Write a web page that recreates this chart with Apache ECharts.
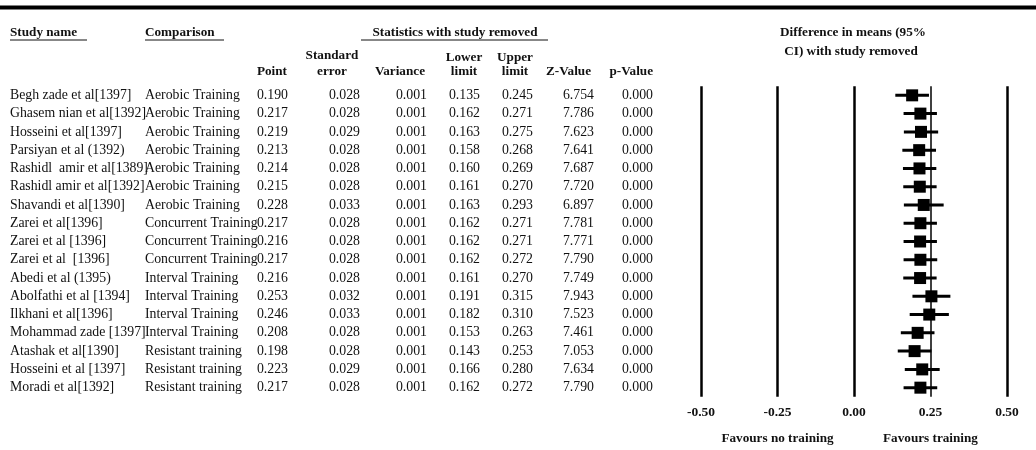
<!DOCTYPE html>
<html><head><meta charset="utf-8">
<script src="https://cdn.jsdelivr.net/npm/echarts@6/dist/echarts.min.js"></script>
<style>html,body{margin:0;padding:0;background:#fff}#c{width:1036px;height:450px}</style>
</head><body><div id="c"></div>
<script>
// ---- data ----
const studies = [
  'Begh zade et al[1397]', 'Ghasem nian et al[1392]', 'Hosseini et al[1397]', 'Parsiyan et al (1392)',
  'Rashidl  amir et al[1389]', 'Rashidl amir et al[1392]', 'Shavandi et al[1390]', 'Zarei et al[1396]',
  'Zarei et al [1396]', 'Zarei et al  [1396]', 'Abedi et al (1395)', 'Abolfathi et al [1394]',
  'Ilkhani et al[1396]', 'Mohammad zade [1397]', 'Atashak et al[1390]', 'Hosseini et al [1397]', 'Moradi et al[1392]'
];
const comparisons = [
  'Aerobic Training', 'Aerobic Training', 'Aerobic Training', 'Aerobic Training', 'Aerobic Training',
  'Aerobic Training', 'Aerobic Training', 'Concurrent Training', 'Concurrent Training', 'Concurrent Training',
  'Interval Training', 'Interval Training', 'Interval Training', 'Interval Training',
  'Resistant training', 'Resistant training', 'Resistant training'
];
const points      = [0.190, 0.217, 0.219, 0.213, 0.214, 0.215, 0.228, 0.217, 0.216, 0.217, 0.216, 0.253, 0.246, 0.208, 0.198, 0.223, 0.217];
const stdErrors   = [0.028, 0.028, 0.029, 0.028, 0.028, 0.028, 0.033, 0.028, 0.028, 0.028, 0.028, 0.032, 0.033, 0.028, 0.028, 0.029, 0.028];
const variances   = [0.001, 0.001, 0.001, 0.001, 0.001, 0.001, 0.001, 0.001, 0.001, 0.001, 0.001, 0.001, 0.001, 0.001, 0.001, 0.001, 0.001];
const lowerLimits = [0.135, 0.162, 0.163, 0.158, 0.160, 0.161, 0.163, 0.162, 0.162, 0.162, 0.161, 0.191, 0.182, 0.153, 0.143, 0.166, 0.162];
const upperLimits = [0.245, 0.271, 0.275, 0.268, 0.269, 0.270, 0.293, 0.271, 0.271, 0.272, 0.270, 0.315, 0.310, 0.263, 0.253, 0.280, 0.272];
const zValues     = [6.754, 7.786, 7.623, 7.641, 7.687, 7.720, 6.897, 7.781, 7.771, 7.790, 7.749, 7.943, 7.523, 7.461, 7.053, 7.634, 7.790];
const pValues     = [0.000, 0.000, 0.000, 0.000, 0.000, 0.000, 0.000, 0.000, 0.000, 0.000, 0.000, 0.000, 0.000, 0.000, 0.000, 0.000, 0.000];
const referenceLines = [-0.5, -0.25, 0, 0.25, 0.5];
const favourAt = [-0.25, 0.25];
const favourLabels = ['Favours no training', 'Favours training'];

// ---- layout / style ----
const SERIF = '"Liberation Serif", "Times New Roman", serif';
const rowFont = '13.8px ' + SERIF;
const boldFont = 'bold 13.2px ' + SERIF;
const INK = '#111';
// text columns: [x, align]
const textCols = [[10, 'left'], [145, 'left']];
// numeric columns: right edges
const numRight = [288, 360, 427, 480, 533, 594, 653];

const numCols = [points, stdErrors, variances, lowerLimits, upperLimits, zValues, pValues];

function T(x, y, text, align, font) {
  return { type: 'text', style: { x: x, y: y, text: text, font: font || boldFont, fill: INK, align: align || 'left', verticalAlign: 'middle' } };
}
function L(x1, y1, x2, y2, w) {
  return { type: 'line', shape: { x1: x1, y1: y1, x2: x2, y2: y2 }, style: { stroke: INK, lineWidth: w || 1 } };
}

const chart = echarts.init(document.getElementById('c'), null, { renderer: 'canvas' });

const graphics = [
  { type: 'rect', shape: { x: 0, y: 5.5, width: 1036, height: 4 }, style: { fill: '#000' } },
  T(10, 33, 'Study name'), L(10, 40, 87, 40, 1),
  T(145, 33, 'Comparison'), L(145, 40, 224, 40, 1),
  T(455, 33, 'Statistics with study removed', 'center'), L(361, 40, 548, 40, 1),
  T(853, 33, 'Difference in means (95%', 'center'),
  T(851, 52, 'CI) with study removed', 'center'),
  T(287, 72, 'Point', 'right'),
  T(332, 56, 'Standard', 'center'), T(332, 72, 'error', 'center'),
  T(425, 72, 'Variance', 'right'),
  T(464, 58, 'Lower', 'center'), T(464, 72, 'limit', 'center'),
  T(515, 58, 'Upper', 'center'), T(515, 72, 'limit', 'center'),
  T(591, 72, 'Z-Value', 'right'),
  T(653, 72, 'p-Value', 'right')
];

chart.setOption({
  animation: false,
  backgroundColor: '#fff',
  grid: { left: 701, right: 29, top: 86.2, bottom: 53.2 },
  xAxis: {
    type: 'value', min: -0.5, max: 0.5, interval: 0.25,
    axisLine: { show: false }, axisTick: { show: false }, splitLine: { show: false },
    axisLabel: {
      margin: 9, color: INK, fontFamily: SERIF, fontWeight: 'bold', fontSize: 13.5,
      formatter: function (v) { return v.toFixed(2); }
    }
  },
  yAxis: {
    type: 'category', inverse: true, data: studies,
    axisLine: { show: false }, axisTick: { show: false }, axisLabel: { show: false }, splitLine: { show: false }
  },
  graphic: graphics,
  series: [
    {
      // table rows, positioned by the category scale
      type: 'custom', clip: false, silent: true,
      data: studies.map(function (_, i) { return [0, i]; }),
      encode: { x: 0, y: 1 },
      renderItem: function (params, api) {
        const i = api.value(1);
        const y = api.coord([0, i])[1];
        const children = [
          T(textCols[0][0], y, studies[i], textCols[0][1], rowFont),
          T(textCols[1][0], y, comparisons[i], textCols[1][1], rowFont)
        ];
        numCols.forEach(function (col, c) {
          children.push(T(numRight[c], y, col[i].toFixed(3), 'right', rowFont));
        });
        return { type: 'group', children: children };
      }
    },
    {
      // forest plot: CI lines and squares
      type: 'custom', silent: true, clip: false,
      data: points.map(function (p, i) { return [p, i, lowerLimits[i], upperLimits[i]]; }),
      encode: { x: [0, 2, 3], y: 1 },
      renderItem: function (params, api) {
        const i = api.value(1);
        const c = api.coord([api.value(0), i]);
        const lo = api.coord([api.value(2), i]);
        const hi = api.coord([api.value(3), i]);
        const s = 12;
        return {
          type: 'group',
          children: [
            { type: 'line', shape: { x1: lo[0], y1: c[1], x2: hi[0], y2: c[1] }, style: { stroke: '#000', lineWidth: 3 } },
            { type: 'rect', shape: { x: c[0] - s / 2, y: c[1] - s / 2, width: s, height: s }, style: { fill: '#000' } }
          ]
        };
      },
      markLine: {
        silent: true, symbol: ['none', 'none'], label: { show: false },
        data: referenceLines.map(function (v) {
          return { xAxis: v, lineStyle: { color: '#000', type: 'solid', width: v === 0.25 ? 1.5 : 2.5 } };
        })
      }
    },
    {
      // favour labels placed along the x scale
      type: 'custom', silent: true, clip: false,
      data: favourAt.map(function (v, i) { return [v, 0, i]; }),
      encode: { x: 0, y: 1 },
      renderItem: function (params, api) {
        const x = api.coord([api.value(0), 0])[0];
        const y = params.coordSys.y + params.coordSys.height + 42;
        return T(x, y, favourLabels[api.value(2)], 'center', boldFont);
      }
    }
  ]
});
</script>
</body></html>
